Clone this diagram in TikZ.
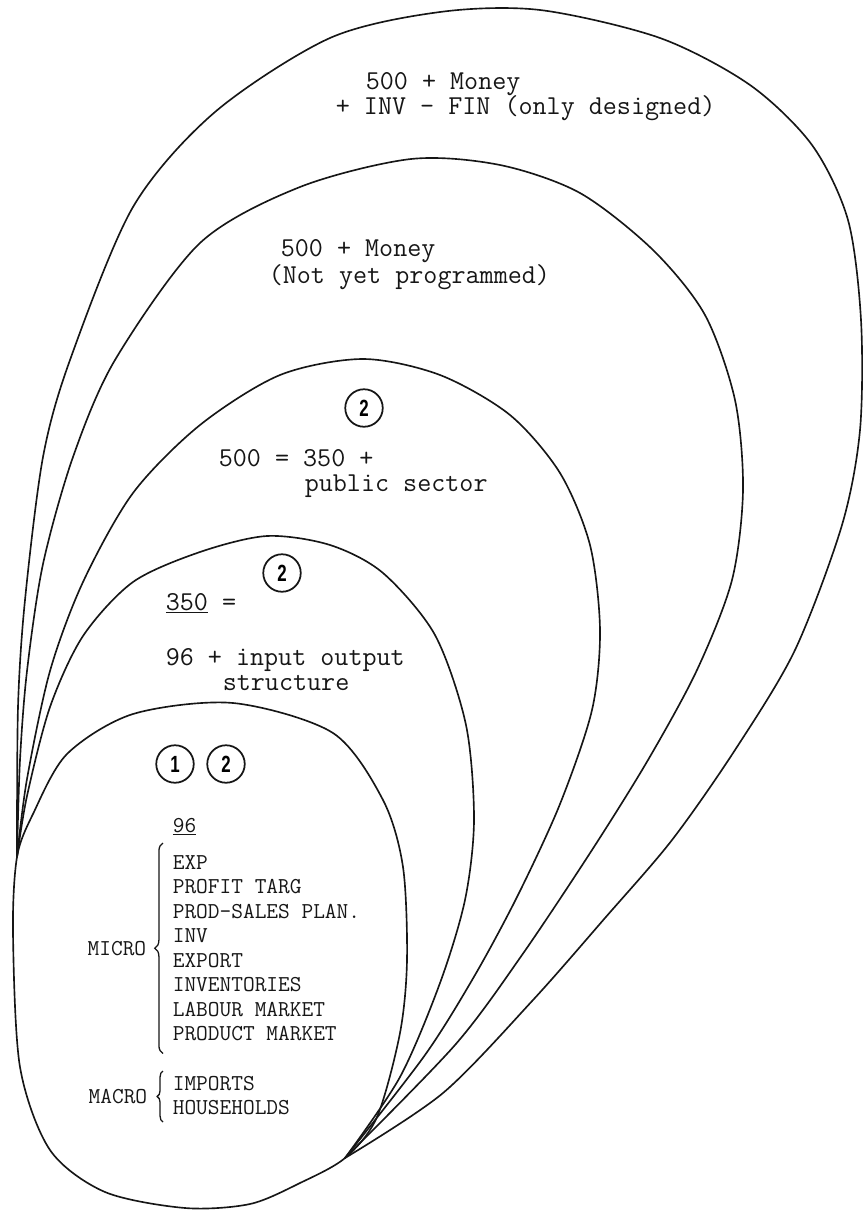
\documentclass[tikz,border=0pt]{standalone}
\usepackage{fontspec}
\setsansfont{Liberation Sans}
\usetikzlibrary{decorations.pathreplacing}
\definecolor{cink}{HTML}{161616}
\tikzset{
  every picture/.style={line width=1.4pt},
  shell/.style={draw=cink, line join=round, smooth, tension=0.5},
  bigtext/.style={font=\ttfamily\fontsize{23.3}{28}\selectfont, anchor=base west, inner sep=0pt, text=cink},
  smalltext/.style={font=\ttfamily\fontsize{19.4}{24}\selectfont, anchor=base west, inner sep=0pt, text=cink},
  badge/.style={draw=cink, circle, minimum size=32pt, inner sep=0pt, line width=1.5pt, font=\sffamily\bfseries\fontsize{20}{20}\selectfont},
  curly/.style={draw=cink, decorate, decoration={brace, amplitude=#1}, line width=1.1pt},
  curly/.default=7pt,
}

\begin{document}
\begin{tikzpicture}[x=0.03cm, y=-0.03cm]
  \useasboundingbox (0,0) rectangle (862,1210);
  \coordinate (west) at (17,857);
  \coordinate (join) at (345,1158);

  % the five shells
  \draw[shell] plot[smooth cycle] coordinates {(west) (13,933) (20,1067) (50,1150) (105,1192) (185,1208) (250,1204) (300,1183) (join) (377,1117) (400,1033) (407,960) (403,867) (383,800) (333,733) (233,703) (133,714) (67,754) (33,814)};
  \draw[shell] plot coordinates {(west) (27,796) (50,707) (83,636) (133,582) (200,552) (267,536) (330,545) (383,573) (435,635) (466,725) (474,820) (465,900) (440,983) (400,1077) (join)};
  \draw[shell] plot coordinates {(west) (27,779) (50,671) (83,582) (133,493) (200,425) (280,375) (363,359) (440,375) (510,415) (560,473) (590,545) (600,630) (592,710) (560,804) (518,895) (475,975) (425,1055) (join)};
  \draw[shell] plot coordinates {(west) (20,760) (27,671) (43,564) (73,457) (115,360) (200,243) (300,187) (411,159) (500,165) (580,193) (653,250) (705,315) (735,400) (743,490) (732,580) (697,670) (648,760) (592,850) (522,955) (455,1045) (join)};
  \draw[shell] plot coordinates {(west) (18,707) (25,600) (43,457) (70,360) (133,207) (215,112) (330,38) (440,12) (540,10) (660,38) (750,85) (812,145) (848,220) (861,320) (860,430) (842,525) (795,650) (735,750) (672,840) (605,918) (533,1000) (443,1093) (join)};

  % outer texts
  \node[bigtext] (money1) at (365,90) {500 + Money};
  \node[bigtext] (money2) at (335,115) {+ INV - FIN (only designed)};
  \node[bigtext] (money3) at (280,256) {500 + Money};
  \node[bigtext] (money4) at (268,283) {(Not yet programmed)};
  \node[badge] (b500) at (364,408) {\scalebox{0.72}[1]{2}};
  \node[bigtext] (pub1) at (218,466) {500 = 350 +};
  \node[bigtext] (pub2) at (304,491) {public sector};
  \node[badge] (b350) at (282,573) {\scalebox{0.72}[1]{2}};
  \node[bigtext] (io1) at (165,610) {\underline{350} =};
  \node[bigtext] (io2) at (165,665) {96 + input output};
  \node[bigtext] (io3) at (222,690) {structure};

  % innermost shell
  \node[badge] (b1) at (175,764) {\scalebox{0.72}[1]{1}};
  \node[badge] (b2) at (226,764) {\scalebox{0.72}[1]{2}};
  \node[smalltext] (n96) at (172,832) {\underline{96}};
  \foreach \t [count=\i] in {EXP, PROFIT TARG, PROD-SALES PLAN., INV, EXPORT, INVENTORIES, LABOUR MARKET, PRODUCT MARKET}
    \node[smalltext] (m\i) at (172,844.5+24.5*\i) {\t};
  \node[smalltext] (imp) at (172,1090) {IMPORTS};
  \node[smalltext] (hh) at (172,1114) {HOUSEHOLDS};
  \draw[curly] ([shift={(-9,13)}]m8.base west) -- ([shift={(-9,-26)}]m1.base west);
  \draw[curly=5pt] ([shift={(-9,8)}]hh.base west) -- ([shift={(-9,-19)}]imp.base west);
  \node[smalltext, anchor=base east] (micro) at (147,955) {MICRO};
  \node[smalltext, anchor=base east] (macro) at (148,1103) {MACRO};
\end{tikzpicture}
\end{document}
